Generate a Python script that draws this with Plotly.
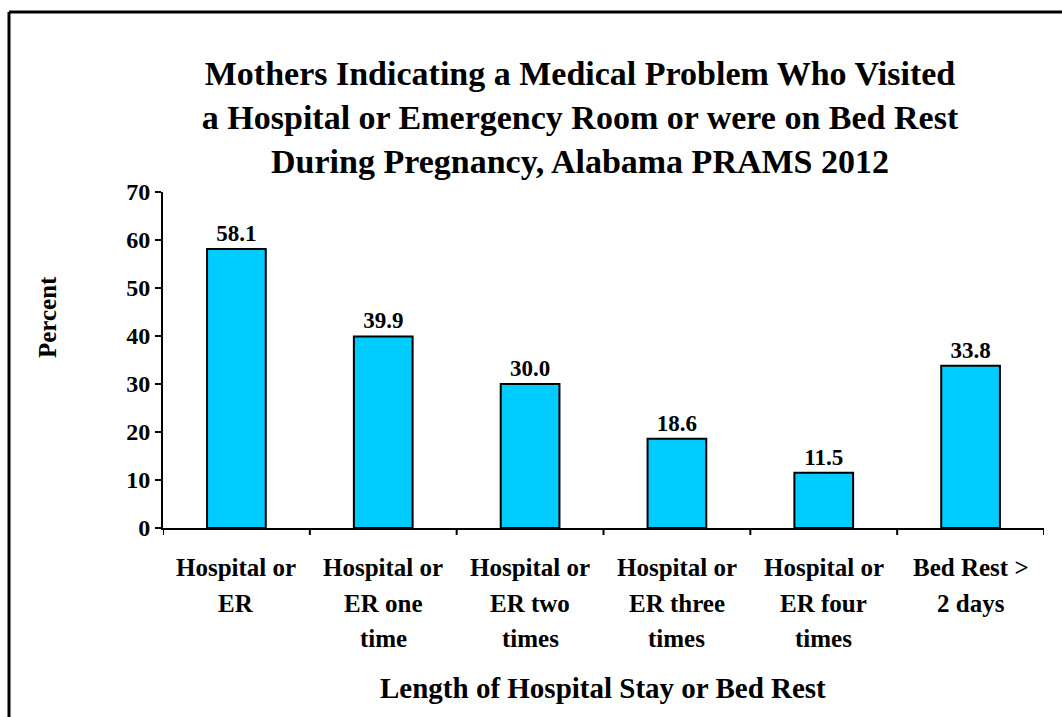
import plotly.graph_objects as go

categories = ["Hospital or|ER", "Hospital or|ER one|time", "Hospital or|ER two|times",
              "Hospital or|ER three|times", "Hospital or|ER four|times", "Bed Rest >|2 days"]
values = [58.1, 39.9, 30.0, 18.6, 11.5, 33.8]
value_labels = ["58.1", "39.9", "30.0", "18.6", "11.5", "33.8"]
y_ticks = [0, 10, 20, 30, 40, 50, 60, 70]

W, H = 1062, 717
L, R, T, B = 163, 18, 192, 189
FONT = "Liberation Serif"
pw, ph = W - L - R, H - T - B

fig = go.Figure()
fig.add_trace(go.Bar(
    x=list(range(len(categories))), y=values,
    marker=dict(color="#00CCFF", line=dict(color="black", width=2)),
    text=["<b>" + t + "</b>" for t in value_labels], textposition="outside", cliponaxis=False,
    textfont=dict(family=FONT, size=23, color="black"),
    width=0.4,
))

fig.update_layout(
    width=W, height=H,
    margin=dict(l=L, r=R, t=T, b=B, autoexpand=False),
    paper_bgcolor="white", plot_bgcolor="white",
    font=dict(family=FONT, color="black"),
    showlegend=False,
    title=dict(
        text="<b>Mothers Indicating a Medical Problem Who Visited<br>a Hospital or Emergency Room or were on Bed Rest<br>During Pregnancy, Alabama PRAMS 2012</b>",
        x=580 / W, xanchor="center", xref="container",
        y=1 - 85 / H, yanchor="middle", yref="container",
        font=dict(family=FONT, size=34, color="black"),
    ),
    xaxis=dict(
        range=[-0.5, len(categories) - 0.5],
        tickmode="array", tickvals=list(range(len(categories))),
        showticklabels=False,
        ticks="", showline=True, linecolor="black", linewidth=2,
        showgrid=False, zeroline=False,
    ),
    yaxis=dict(
        range=[0, 70], tickmode="array", tickvals=y_ticks,
        ticktext=["<b>%d</b>" % v for v in y_ticks],
        ticks="outside", ticklen=6, tickwidth=2, tickcolor="black",
        showline=True, linecolor="black", linewidth=2,
        tickfont=dict(family=FONT, size=24, color="black"),
        showgrid=False, zeroline=False,
    ),
)

# category labels, one annotation per line for the wider line spacing
line_offsets = [39, 75, 110]
for i, cat in enumerate(categories):
    for j, line in enumerate(cat.split("|")):
        fig.add_annotation(x=i, xref="x", y=0, yref="paper", yanchor="middle",
                           yshift=-line_offsets[j], text="<b>" + line + "</b>", showarrow=False,
                           font=dict(family=FONT, size=25, color="black"))

# axis titles
fig.add_annotation(x=(603 - L) / pw, xref="paper", y=0, yref="paper", yanchor="middle", yshift=-160,
                   text="<b>Length of Hospital Stay or Bed Rest</b>", showarrow=False,
                   font=dict(family=FONT, size=29, color="black"))
fig.add_annotation(x=(47 - L) / pw, xref="paper", y=1 - (317 - T) / ph, yref="paper",
                   xanchor="center", yanchor="middle", textangle=-90,
                   text="<b>Percent</b>", showarrow=False,
                   font=dict(family=FONT, size=25, color="black"))

# x tick marks between categories
for i in range(len(categories) + 1):
    fig.add_shape(type="line", xref="x", yref="paper", x0=i - 0.5, x1=i - 0.5, y0=0, y1=-7 / ph,
                  line=dict(color="black", width=2))

# outer frame (top and left edges)
fx0 = (9 - L) / pw
fy1 = 1 + (T - 12) / ph
fig.add_shape(type="line", xref="paper", yref="paper", x0=fx0, x1=(W - L) / pw, y0=fy1, y1=fy1,
              line=dict(color="black", width=3))
fig.add_shape(type="line", xref="paper", yref="paper", x0=fx0, x1=fx0, y0=fy1, y1=-B / ph,
              line=dict(color="black", width=3))

fig.write_html("out.html", config={"displayModeBar": False},
               post_script="document.body.style.margin='0';document.body.style.overflow='hidden';")
